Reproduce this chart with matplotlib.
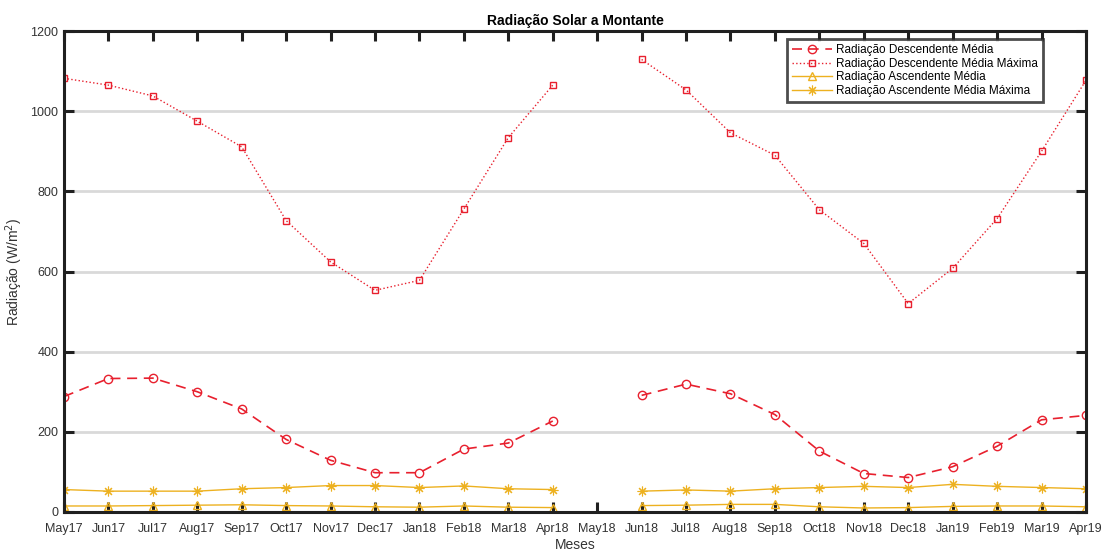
import numpy as np
import matplotlib
matplotlib.use("Agg")
import matplotlib.pyplot as plt

plt.rcParams['font.family'] = ['Liberation Sans', 'DejaVu Sans']

meses = ["May17", "Jun17", "Jul17", "Aug17", "Sep17", "Oct17", "Nov17", "Dec17",
         "Jan18", "Feb18", "Mar18", "Apr18", "May18", "Jun18", "Jul18", "Aug18",
         "Sep18", "Oct18", "Nov18", "Dec18", "Jan19", "Feb19", "Mar19", "Apr19"]

nan = np.nan
desc_media = [288, 333, 334, 300, 257, 181, 129, 98, 98, 157, 172, 227, nan,
              291, 319, 295, 243, 152, 96, 86, 113, 164, 230, 241]
desc_max = [1082, 1065, 1038, 975, 911, 727, 624, 553, 578, 756, 934, 1065, nan,
            1129, 1053, 946, 890, 754, 670, 520, 608, 732, 900, 1077]
asc_media = [15, 15, 16, 17, 18, 16, 15, 13, 12, 15, 12, 11, nan,
             16, 17, 19, 19, 13, 10, 11, 14, 15, 15, 13]
asc_max = [56, 52, 52, 52, 58, 61, 66, 66, 61, 65, 58, 56, nan,
           52, 55, 52, 58, 61, 64, 61, 69, 64, 61, 58]

red = '#e8202e'
yellow = '#edb120'

fig = plt.figure(figsize=(11.07, 5.5), dpi=100)
ax = fig.add_axes([0.0578, 0.0691, 0.9232, 0.8745])

x = np.arange(len(meses))
ax.plot(x, desc_media, color=red, linestyle=(0, (6, 4)), linewidth=1.2,
        marker='o', markersize=6, markerfacecolor='none', markeredgewidth=1.0,
        label='Radiação Descendente Média')
ax.plot(x, desc_max, color=red, linestyle=':', linewidth=1.0,
        marker='s', markersize=5, markerfacecolor='none', markeredgewidth=1.0,
        label='Radiação Descendente Média Máxima')
ax.plot(x, asc_media, color=yellow, linestyle='-', linewidth=1.0,
        marker='^', markersize=6, markerfacecolor='none', markeredgewidth=1.0,
        label='Radiação Ascendente Média')
ax.plot(x, asc_max, color=yellow, linestyle='-', linewidth=1.0,
        marker=(8, 2, 0), markersize=7, markeredgecolor=yellow,
        markeredgewidth=0.8, label='Radiação Ascendente Média Máxima')

ax.set_xlim(0, len(meses) - 1)
ax.set_ylim(0, 1200)
ax.set_xticks(x)
ax.set_xticklabels(meses)
ax.set_yticks([0, 200, 400, 600, 800, 1000, 1200])

ax.yaxis.grid(True, color='#d9d9d9', linewidth=2)
ax.set_axisbelow(True)
for s in ax.spines.values():
    s.set_linewidth(2.2)
    s.set_color('#202020')
ax.tick_params(direction='in', length=7, width=2.2, color='#202020',
               top=True, right=True, labelsize=9, labelcolor='#333333')
ax.tick_params(axis='x', pad=8)
ax.tick_params(axis='y', pad=4)

ax.set_title('Radiação Solar a Montante', fontsize=10, fontweight='bold', pad=4)
ax.set_xlabel('Meses', fontsize=10, color='#333333', labelpad=2)
ax.set_ylabel('Radiação (W/m$^2$)', fontsize=10, color='#333333', labelpad=4)

leg = ax.legend(loc='upper right', bbox_to_anchor=(0.958, 0.983), fontsize=8.5,
                frameon=True, fancybox=False, borderpad=0.4, labelspacing=0.15,
                handlelength=3.4, handletextpad=0.4, borderaxespad=0.0)
leg.get_frame().set_edgecolor('#202020')
leg.get_frame().set_linewidth(2)

fig.savefig('out.png', dpi=100)
